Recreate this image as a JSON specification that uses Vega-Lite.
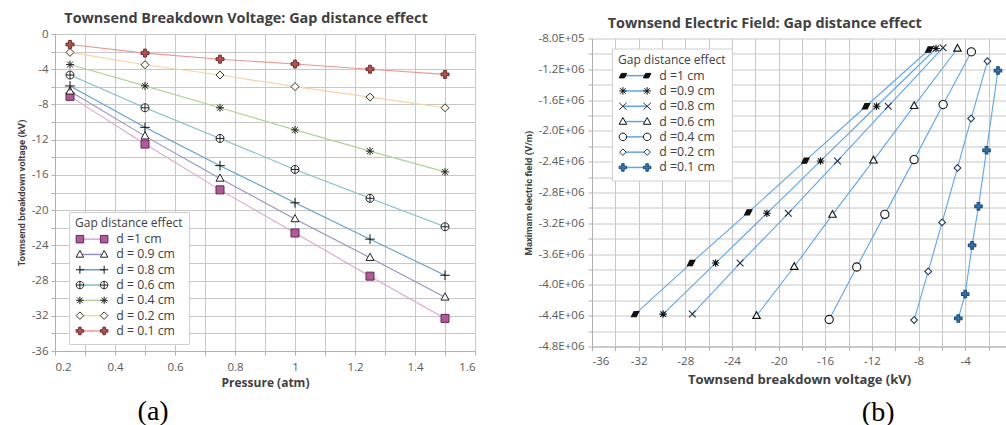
{
  "$schema": "https://vega.github.io/schema/vega-lite/v6.json",
  "padding": {"left": 16, "top": 10, "right": 0, "bottom": 0},
  "background": "white",
  "config": {
    "font": "Open Sans",
    "view": {"stroke": null},
    "axis": {
      "gridColor": "#c8c8c8", "gridWidth": 1, "gridOpacity": 1,
      "domainColor": "#b0b0b0", "tickColor": "#b0b0b0", "tickSize": 4,
      "labelColor": "#595959", "labelFontSize": 11.5, "labelFont": "Open Sans", "labelOverlap": false,
      "titleColor": "#404040", "titleFontSize": 12, "titleFontWeight": "bold", "titleFont": "Open Sans"
    }
  },
  "data": {"values": [
    {"d": 1, "p": 0.25, "V": -7.08, "E": -943000},
    {"d": 1, "p": 0.5, "V": -12.5, "E": -1680000},
    {"d": 1, "p": 0.75, "V": -17.7, "E": -2386000},
    {"d": 1, "p": 1.0, "V": -22.6, "E": -3058000},
    {"d": 1, "p": 1.25, "V": -27.5, "E": -3716000},
    {"d": 1, "p": 1.5, "V": -32.3, "E": -4379000},
    {"d": 0.9, "p": 0.25, "V": -6.5, "E": -930000},
    {"d": 0.9, "p": 0.5, "V": -11.6, "E": -1680000},
    {"d": 0.9, "p": 0.75, "V": -16.4, "E": -2390000},
    {"d": 0.9, "p": 1.0, "V": -21.0, "E": -3070000},
    {"d": 0.9, "p": 1.25, "V": -25.4, "E": -3716000},
    {"d": 0.9, "p": 1.5, "V": -29.9, "E": -4379000},
    {"d": 0.8, "p": 0.25, "V": -5.9, "E": -920000},
    {"d": 0.8, "p": 0.5, "V": -10.6, "E": -1680000},
    {"d": 0.8, "p": 0.75, "V": -14.95, "E": -2390000},
    {"d": 0.8, "p": 1.0, "V": -19.17, "E": -3070000},
    {"d": 0.8, "p": 1.25, "V": -23.3, "E": -3716000},
    {"d": 0.8, "p": 1.5, "V": -27.4, "E": -4379000},
    {"d": 0.6, "p": 0.25, "V": -4.66, "E": -930000},
    {"d": 0.6, "p": 0.5, "V": -8.38, "E": -1675000},
    {"d": 0.6, "p": 0.75, "V": -11.86, "E": -2382000},
    {"d": 0.6, "p": 1.0, "V": -15.38, "E": -3088000},
    {"d": 0.6, "p": 1.25, "V": -18.66, "E": -3764000},
    {"d": 0.6, "p": 1.5, "V": -21.89, "E": -4401000},
    {"d": 0.4, "p": 0.25, "V": -3.47, "E": -973000},
    {"d": 0.4, "p": 0.5, "V": -5.89, "E": -1658000},
    {"d": 0.4, "p": 0.75, "V": -8.38, "E": -2373000},
    {"d": 0.4, "p": 1.0, "V": -10.89, "E": -3084000},
    {"d": 0.4, "p": 1.25, "V": -13.3, "E": -3768000},
    {"d": 0.4, "p": 1.5, "V": -15.66, "E": -4449000},
    {"d": 0.2, "p": 0.25, "V": -2.09, "E": -1095000},
    {"d": 0.2, "p": 0.5, "V": -3.49, "E": -1840000},
    {"d": 0.2, "p": 0.75, "V": -4.66, "E": -2481000},
    {"d": 0.2, "p": 1.0, "V": -5.98, "E": -3188000},
    {"d": 0.2, "p": 1.25, "V": -7.17, "E": -3825000},
    {"d": 0.2, "p": 1.5, "V": -8.38, "E": -4457000},
    {"d": 0.1, "p": 0.25, "V": -1.19, "E": -1216000},
    {"d": 0.1, "p": 0.5, "V": -2.17, "E": -2252000},
    {"d": 0.1, "p": 0.75, "V": -2.86, "E": -2980000},
    {"d": 0.1, "p": 1.0, "V": -3.41, "E": -3487000},
    {"d": 0.1, "p": 1.25, "V": -4.0, "E": -4119000},
    {"d": 0.1, "p": 1.5, "V": -4.59, "E": -4436000}
  ]},
  "spacing": 117,
  "bounds": "flush",
  "center": true,
  "resolve": {"scale": {"color": "independent", "shape": "independent", "fill": "independent", "stroke": "independent"}},
  "hconcat": [
    {
      "width": 420,
      "height": 317,
      "title": {"text": "Townsend Breakdown Voltage: Gap distance effect", "frame": "bounds", "anchor": "middle", "fontSize": 14.4, "fontWeight": "bold", "color": "#404040", "font": "Open Sans", "offset": 1.7},
      "resolve": {"scale": {"shape": "independent", "fill": "independent", "stroke": "independent"}},
      "layer": [
        {
          "mark": {"type": "line", "strokeWidth": 1.1},
          "encoding": {
            "x": {"field": "p", "type": "quantitative", "scale": {"domain": [0.2, 1.6], "nice": false, "zero": false},
              "axis": {"title": "Pressure (atm)", "grid": true, "tickCount": 100, "labelOverlap": false, "values": [0.2, 0.3, 0.4, 0.5, 0.6, 0.7, 0.8, 0.9, 1, 1.1, 1.2, 1.3, 1.4, 1.5, 1.6],
                "labelExpr": "round(datum.value*10)%2==0 ? '' + datum.value : ''", "labelPadding": 6, "titlePadding": 5}},
            "y": {"field": "V", "type": "quantitative", "scale": {"domain": [-36, 0], "nice": false, "zero": false},
              "axis": {"title": "Townsend breakdown voltage (kV)", "grid": true, "tickCount": 100, "labelOverlap": false, "values": [0, -2, -4, -6, -8, -10, -12, -14, -16, -18, -20, -22, -24, -26, -28, -30, -32, -34, -36],
                "labelExpr": "round(datum.value)%4==0 ? '' + datum.value : ''", "labelPadding": 3, "titlePadding": 4.7,
                "titleFont": "Liberation Sans Narrow, Roboto", "titleFontSize": 9.5, "titleFontWeight": "bold"}},
            "color": {"field": "d", "type": "nominal",
              "scale": {"domain": [1, 0.9, 0.8, 0.6, 0.4, 0.2, 0.1], "range": ["#e2a3d2", "#968fcc", "#5aa0d8", "#78c2cc", "#b0d494", "#f9d39c", "#ec9790"]},
              "legend": {"orient": "none", "legendX": 14, "legendY": 178, "title": "Gap distance effect",
                "titleFontWeight": "normal", "titleFontSize": 12, "titleColor": "#404040", "titleFont": "Open Sans", "titlePadding": 3,
                "labelFontSize": 12.3, "labelColor": "#404040", "labelFont": "Open Sans",
                "labelExpr": "datum.value == 1 ? 'd =1 cm' : 'd = ' + datum.value + ' cm'",
                "symbolType": "M-0.25,0H4.6", "symbolSize": 100, "symbolStrokeWidth": 1.5, "labelOffset": 29, "rowPadding": 2.3,
                "padding": 6, "fillColor": "white", "strokeColor": "#d0d0d0"}}
          }
        },
        {
          "mark": {"type": "point", "opacity": 1, "size": 64, "strokeWidth": 1},
          "encoding": {
            "x": {"field": "p", "type": "quantitative"},
            "y": {"field": "V", "type": "quantitative"},
            "shape": {"field": "d", "type": "nominal", "legend": null,
              "scale": {"domain": [1, 0.9, 0.8, 0.6, 0.4, 0.2, 0.1], "range": [
                "M-1,-1H1V1H-1Z",
                "M0,-1.1L1,0.7H-1Z",
                "M-1.2,0H1.2M0,-1.2V1.2",
                "M1,0C1,0.552,0.552,1,0,1C-0.552,1,-1,0.552,-1,0C-1,-0.552,-0.552,-1,0,-1C0.552,-1,1,-0.552,1,0ZM-1,0H1M0,-1V1",
                "M-1,0H1M0,-1V1M-0.75,-0.75L0.75,0.75M-0.75,0.75L0.75,-0.75",
                "M0,-1L1,0L0,1L-1,0Z",
                "M-0.35,-1H0.35V-0.35H1V0.35H0.35V1H-0.35V0.35H-1V-0.35H-0.35Z"]}},
            "fill": {"field": "d", "type": "nominal", "legend": null,
              "scale": {"domain": [1, 0.9, 0.8, 0.6, 0.4, 0.2, 0.1], "range": ["#b4589e", "#ffffff", "#ffffff", "#ffffff", "#ffffff", "#fffbe8", "#c0504d"]}},
            "stroke": {"field": "d", "type": "nominal", "legend": null,
              "scale": {"domain": [1, 0.9, 0.8, 0.6, 0.4, 0.2, 0.1], "range": ["#5e2a52", "#222222", "#111111", "#222222", "#222222", "#333333", "#6b2a28"]}}
          }
        },
        {
          "transform": [{"filter": "false"}],
          "mark": {"type": "point", "opacity": 1, "strokeWidth": 1},
          "encoding": {
            "shape": {"field": "d", "type": "nominal",
              "scale": {"domain": [1, 0.9, 0.8, 0.6, 0.4, 0.2, 0.1], "range": [
                "M-1,-0.75H0.5V0.75H-1ZM3.85,-0.75H5.35V0.75H3.85Z",
                "M-0.25,-0.8L0.5,0.55H-1ZM4.6,-0.8L5.35,0.55H3.85Z",
                "M-1.05,0H0.55M-0.25,-0.8V0.8M3.8,0H5.4M4.6,-0.8V0.8",
                "M0.5,0C0.5,0.414,0.164,0.75,-0.25,0.75C-0.664,0.75,-1,0.414,-1,0C-1,-0.414,-0.664,-0.75,-0.25,-0.75C0.164,-0.75,0.5,-0.414,0.5,0ZM-1,0H0.5M-0.25,-0.75V0.75M5.35,0C5.35,0.414,5.014,0.75,4.6,0.75C4.186,0.75,3.85,0.414,3.85,0C3.85,-0.414,4.186,-0.75,4.6,-0.75C5.014,-0.75,5.35,-0.414,5.35,0ZM3.85,0H5.35M4.6,-0.75V0.75",
                "M-1,0H0.5M-0.25,-0.75V0.75M-0.8,-0.55L0.3,0.55M-0.8,0.55L0.3,-0.55M3.85,0H5.35M4.6,-0.75V0.75M4.05,-0.55L5.15,0.55M4.05,0.55L5.15,-0.55",
                "M-0.25,-0.75L0.5,0L-0.25,0.75L-1,0ZM4.6,-0.75L5.35,0L4.6,0.75L3.85,0Z",
                "M-0.5,-0.75H0V-0.25H0.5V0.25H0V0.75H-0.5V0.25H-1V-0.25H-0.5ZM4.35,-0.75H4.85V-0.25H5.35V0.25H4.85V0.75H4.35V0.25H3.85V-0.25H4.35Z"]},
              "legend": {"orient": "none", "legendX": 14, "legendY": 178, "title": " ", "titleOpacity": 0,
                "titleFontWeight": "normal", "titleFontSize": 12, "titleFont": "Open Sans", "titlePadding": 3,
                "labelFontSize": 12.3, "labelFont": "Open Sans", "labelOpacity": 0, "labelExpr": "' '",
                "symbolSize": 100, "symbolStrokeWidth": 1, "labelOffset": 29, "rowPadding": 2.3, "padding": 6}},
            "fill": {"field": "d", "type": "nominal",
              "scale": {"domain": [1, 0.9, 0.8, 0.6, 0.4, 0.2, 0.1], "range": ["#b4589e", "#ffffff", "#ffffff", "#ffffff", "#ffffff", "#fffbe8", "#c0504d"]},
              "legend": {"orient": "none", "legendX": 14, "legendY": 178, "title": " ", "titleOpacity": 0,
                "titleFontWeight": "normal", "titleFontSize": 12, "titleFont": "Open Sans", "titlePadding": 3,
                "labelFontSize": 12.3, "labelFont": "Open Sans", "labelOpacity": 0, "labelExpr": "' '",
                "symbolSize": 100, "symbolStrokeWidth": 1, "labelOffset": 29, "rowPadding": 2.3, "padding": 6}},
            "stroke": {"field": "d", "type": "nominal",
              "scale": {"domain": [1, 0.9, 0.8, 0.6, 0.4, 0.2, 0.1], "range": ["#5e2a52", "#222222", "#111111", "#222222", "#222222", "#333333", "#6b2a28"]},
              "legend": {"orient": "none", "legendX": 14, "legendY": 178, "title": " ", "titleOpacity": 0,
                "titleFontWeight": "normal", "titleFontSize": 12, "titleFont": "Open Sans", "titlePadding": 3,
                "labelFontSize": 12.3, "labelFont": "Open Sans", "labelOpacity": 0, "labelExpr": "' '",
                "symbolSize": 100, "symbolStrokeWidth": 1, "labelOffset": 29, "rowPadding": 2.3, "padding": 6}}
          }
        },
        {
          "data": {"values": [{"caption": "(a)"}]},
          "mark": {"type": "text", "font": "Liberation Serif", "fontSize": 28, "color": "#000000", "baseline": "middle", "align": "center"},
          "encoding": {
            "x": {"datum": 0.527, "type": "quantitative"},
            "y": {"datum": -42.9, "type": "quantitative"},
            "text": {"field": "caption"}
          }
        }
      ]
    },
    {
      "width": 414,
      "height": 308,
      "title": {"text": "Townsend Electric Field: Gap distance effect", "frame": "bounds", "anchor": "middle", "fontSize": 14.4, "fontWeight": "bold", "color": "#404040", "font": "Open Sans", "offset": 1},
      "resolve": {"scale": {"shape": "independent", "fill": "independent", "stroke": "independent"}},
      "layer": [
        {
          "mark": {"type": "line", "strokeWidth": 1.1},
          "encoding": {
            "x": {"field": "V", "type": "quantitative", "scale": {"domain": [-36, -0.5], "nice": false, "zero": false},
              "axis": {"title": "Townsend breakdown voltage (kV)", "grid": true, "tickCount": 100, "labelOverlap": false, "values": [-36, -34, -32, -30, -28, -26, -24, -22, -20, -18, -16, -14, -12, -10, -8, -6, -4, -2],
                "labelExpr": "round(datum.value)%4==0 ? '' + datum.value : ''", "labelPadding": 5, "titlePadding": 6, "titleFontSize": 13}},
            "y": {"field": "E", "type": "quantitative", "scale": {"domain": [-4800000, -800000], "nice": false, "zero": false},
              "axis": {"title": "Maximam electric field (V/m)", "grid": true, "tickCount": 100, "labelOverlap": false,
                "values": [-800000, -1000000, -1200000, -1400000, -1600000, -1800000, -2000000, -2200000, -2400000, -2600000, -2800000, -3000000, -3200000, -3400000, -3600000, -3800000, -4000000, -4200000, -4400000, -4600000, -4800000],
                "labelExpr": "round(datum.value/200000)%2==0 ? '-' + format(abs(datum.value)/pow(10, floor(log(abs(datum.value))/LN10 + 1e-9)), '.1f') + 'E+' + (floor(log(abs(datum.value))/LN10 + 1e-9) < 10 ? '0' : '') + floor(log(abs(datum.value))/LN10 + 1e-9) : ''",
                "labelPadding": 4, "titlePadding": 4.5,
                "titleFont": "Liberation Sans Narrow, Roboto", "titleFontSize": 9.5, "titleFontWeight": "bold"}},
            "color": {"field": "d", "type": "nominal",
              "scale": {"domain": [1, 0.9, 0.8, 0.6, 0.4, 0.2, 0.1], "range": ["#5ba6ee", "#5ba6ee", "#5ba6ee", "#5ba6ee", "#5ba6ee", "#5ba6ee", "#5ba6ee"]},
              "legend": {"orient": "none", "legendX": 20, "legendY": 10, "title": "Gap distance effect",
                "titleFontWeight": "normal", "titleFontSize": 12, "titleColor": "#404040", "titleFont": "Open Sans", "titlePadding": 3,
                "labelFontSize": 12.3, "labelColor": "#404040", "labelFont": "Open Sans",
                "labelExpr": "'d =' + datum.value + ' cm'",
                "symbolType": "M-0.25,0H4.6", "symbolSize": 100, "symbolStrokeWidth": 1.5, "labelOffset": 29, "rowPadding": 2.3,
                "padding": 6, "fillColor": "white", "strokeColor": "#d0d0d0"}}
          }
        },
        {
          "mark": {"type": "point", "opacity": 1, "size": 56, "strokeWidth": 1.1},
          "encoding": {
            "x": {"field": "V", "type": "quantitative"},
            "y": {"field": "E", "type": "quantitative"},
            "shape": {"field": "d", "type": "nominal", "legend": null,
              "scale": {"domain": [1, 0.9, 0.8, 0.6, 0.4, 0.2, 0.1], "range": [
                "M-0.3,-0.7H1L0.3,0.7H-1Z",
                "M-1,0H1M0,-1V1M-0.75,-0.75L0.75,0.75M-0.75,0.75L0.75,-0.75",
                "M-0.9,-0.9L0.9,0.9M-0.9,0.9L0.9,-0.9",
                "M0,-1.1L1,0.7H-1Z",
                "M1.1,0C1.1,0.607,0.607,1.1,0,1.1C-0.607,1.1,-1.1,0.607,-1.1,0C-1.1,-0.607,-0.607,-1.1,0,-1.1C0.607,-1.1,1.1,-0.607,1.1,0Z",
                "M0,-0.9L0.9,0L0,0.9L-0.9,0Z",
                "M-0.35,-1H0.35V-0.35H1V0.35H0.35V1H-0.35V0.35H-1V-0.35H-0.35Z"]}},
            "fill": {"field": "d", "type": "nominal", "legend": null,
              "scale": {"domain": [1, 0.9, 0.8, 0.6, 0.4, 0.2, 0.1], "range": ["#111111", "#ffffff", "#ffffff", "#ffffff", "#ffffff", "#ffffff", "#2e75b6"]}},
            "stroke": {"field": "d", "type": "nominal", "legend": null,
              "scale": {"domain": [1, 0.9, 0.8, 0.6, 0.4, 0.2, 0.1], "range": ["#111111", "#111111", "#1f2d4a", "#111111", "#111111", "#1f3864", "#1f4e79"]}}
          }
        },
        {
          "transform": [{"filter": "false"}],
          "mark": {"type": "point", "opacity": 1, "strokeWidth": 1},
          "encoding": {
            "shape": {"field": "d", "type": "nominal",
              "scale": {"domain": [1, 0.9, 0.8, 0.6, 0.4, 0.2, 0.1], "range": [
                "M-0.55,-0.45H0.5L0.05,0.45H-1ZM4.3,-0.45H5.35L4.9,0.45H3.85Z",
                "M-1,0H0.5M-0.25,-0.75V0.75M-0.8,-0.55L0.3,0.55M-0.8,0.55L0.3,-0.55M3.85,0H5.35M4.6,-0.75V0.75M4.05,-0.55L5.15,0.55M4.05,0.55L5.15,-0.55",
                "M-1,-0.7L0.5,0.7M-1,0.7L0.5,-0.7M3.85,-0.7L5.35,0.7M3.85,0.7L5.35,-0.7",
                "M-0.25,-0.8L0.5,0.55H-1ZM4.6,-0.8L5.35,0.55H3.85Z",
                "M0.5,0C0.5,0.414,0.164,0.75,-0.25,0.75C-0.664,0.75,-1,0.414,-1,0C-1,-0.414,-0.664,-0.75,-0.25,-0.75C0.164,-0.75,0.5,-0.414,0.5,0ZM5.35,0C5.35,0.414,5.014,0.75,4.6,0.75C4.186,0.75,3.85,0.414,3.85,0C3.85,-0.414,4.186,-0.75,4.6,-0.75C5.014,-0.75,5.35,-0.414,5.35,0Z",
                "M-0.25,-0.65L0.4,0L-0.25,0.65L-0.9,0ZM4.6,-0.65L5.25,0L4.6,0.65L3.95,0Z",
                "M-0.5,-0.75H0V-0.25H0.5V0.25H0V0.75H-0.5V0.25H-1V-0.25H-0.5ZM4.35,-0.75H4.85V-0.25H5.35V0.25H4.85V0.75H4.35V0.25H3.85V-0.25H4.35Z"]},
              "legend": {"orient": "none", "legendX": 20, "legendY": 10, "title": " ", "titleOpacity": 0,
                "titleFontWeight": "normal", "titleFontSize": 12, "titleFont": "Open Sans", "titlePadding": 3,
                "labelFontSize": 12.3, "labelFont": "Open Sans", "labelOpacity": 0, "labelExpr": "' '",
                "symbolSize": 100, "symbolStrokeWidth": 1, "labelOffset": 29, "rowPadding": 2.3, "padding": 6}},
            "fill": {"field": "d", "type": "nominal",
              "scale": {"domain": [1, 0.9, 0.8, 0.6, 0.4, 0.2, 0.1], "range": ["#111111", "#ffffff", "#ffffff", "#ffffff", "#ffffff", "#ffffff", "#2e75b6"]},
              "legend": {"orient": "none", "legendX": 20, "legendY": 10, "title": " ", "titleOpacity": 0,
                "titleFontWeight": "normal", "titleFontSize": 12, "titleFont": "Open Sans", "titlePadding": 3,
                "labelFontSize": 12.3, "labelFont": "Open Sans", "labelOpacity": 0, "labelExpr": "' '",
                "symbolSize": 100, "symbolStrokeWidth": 1, "labelOffset": 29, "rowPadding": 2.3, "padding": 6}},
            "stroke": {"field": "d", "type": "nominal",
              "scale": {"domain": [1, 0.9, 0.8, 0.6, 0.4, 0.2, 0.1], "range": ["#111111", "#111111", "#1f2d4a", "#111111", "#111111", "#1f3864", "#1f4e79"]},
              "legend": {"orient": "none", "legendX": 20, "legendY": 10, "title": " ", "titleOpacity": 0,
                "titleFontWeight": "normal", "titleFontSize": 12, "titleFont": "Open Sans", "titlePadding": 3,
                "labelFontSize": 12.3, "labelFont": "Open Sans", "labelOpacity": 0, "labelExpr": "' '",
                "symbolSize": 100, "symbolStrokeWidth": 1, "labelOffset": 29, "rowPadding": 2.3, "padding": 6}}
          }
        },
        {
          "data": {"values": [{"caption": "(b)"}]},
          "mark": {"type": "text", "font": "Liberation Serif", "fontSize": 28, "color": "#000000", "baseline": "middle", "align": "center"},
          "encoding": {
            "x": {"datum": -11.46, "type": "quantitative"},
            "y": {"datum": -5660000, "type": "quantitative"},
            "text": {"field": "caption"}
          }
        }
      ]
    }
  ]
}
